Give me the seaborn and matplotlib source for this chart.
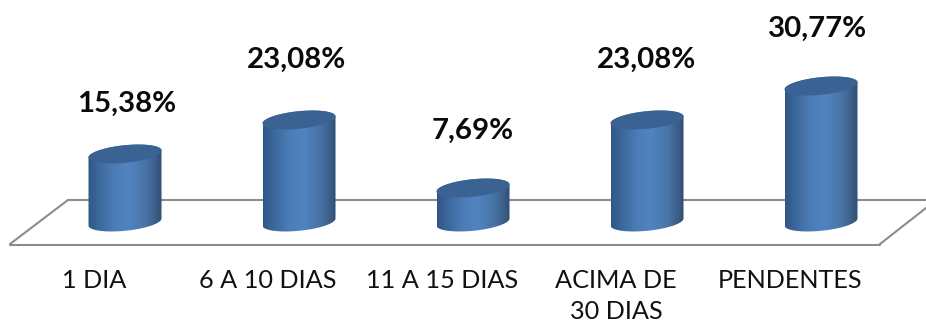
import numpy as np
import pandas as pd
import matplotlib
matplotlib.use("Agg")
import matplotlib.pyplot as plt
import seaborn as sns
from matplotlib.colors import LinearSegmentedColormap
from matplotlib.patches import Polygon
from matplotlib.transforms import ScaledTranslation

categories = ["1 DIA", "6 A 10 DIAS", "11 A 15 DIAS", "ACIMA DE\n30 DIAS", "PENDENTES"]
values = [15.38, 23.08, 7.69, 23.08, 30.77]
label_offsets_px = [(2, 50), (-2, 60), (0, 57), (0, 60), (-3, 57)]

W, H = 926, 326
AX_BOTTOM_PX = 262
X0, DX = 125.0, 174.0
Y0, DY = 222.0, 4.42

sns.set_theme(style="white")
plt.rcParams["font.family"] = ["Lato", "DejaVu Sans"]

fig = plt.figure(figsize=(W / 100, H / 100), dpi=100)
ax = fig.add_axes([0, 1 - AX_BOTTOM_PX / H, 1, AX_BOTTOM_PX / H])
df = pd.DataFrame({"cat": categories, "val": values})
sns.barplot(data=df, x="cat", y="val", width=73 / DX, color="#4f81bd", ax=ax, saturation=1)

xlim = (-X0 / DX, (W - X0) / DX)
ylim = ((Y0 - AX_BOTTOM_PX) / DY, Y0 / DY)
ax.set_xlim(xlim)
ax.set_ylim(ylim)
ax.set_xlabel("")
ax.set_ylabel("")
ax.set_yticks([])
ax.set_xticks(range(len(categories)))
ax.set_xticklabels(categories, fontsize=18.2, color="#111111", linespacing=1.42)
ax.tick_params(axis="x", length=0, pad=5)
shift = ScaledTranslation(-31 / 100, 0, fig.dpi_scale_trans)
for lab in ax.get_xticklabels():
    lab.set_transform(lab.get_transform() + shift)
for s in ax.spines.values():
    s.set_visible(False)
ax.patch.set_alpha(0)


def px(x, y):
    return ((np.asarray(x, float) - X0) / DX, (Y0 - np.asarray(y, float)) / DY)


# Floor of the 3-D chart
floor_col = "#8c8c8c"
for xs, ys in [((10, 68), (244, 200)), ((68, 926), (200, 200)),
               ((10, 880), (244.5, 244.5)), ((880, 926), (244, 208))]:
    ax.plot(*px(xs, ys), color=floor_col, lw=1.5, zorder=1, solid_capstyle="round")

cmap = LinearSegmentedColormap.from_list(
    "cyl",
    [(0, "#305685"), (0.12, "#3a6598"), (0.35, "#4b7cb6"), (0.55, "#5084c1"),
     (0.78, "#4874a6"), (0.93, "#3b5c85"), (1, "#2f4e75")],
)
grad = np.linspace(0, 1, 256).reshape(1, -1)
A_PX, B_PX, K_PX = 36.5, 8.8, -3.5

for bar, v, (ox, oy) in zip(ax.patches, values, label_offsets_px):
    bar.set_visible(False)
    cx = bar.get_x() + bar.get_width() / 2
    cpx = X0 + cx * DX
    top_px = Y0 - bar.get_height() * DY
    # lower half of the base ellipse and upper half of the top ellipse
    t1 = np.linspace(0, np.pi, 60)
    t2 = np.linspace(np.pi, 2 * np.pi, 60)
    xb = cpx + A_PX * np.cos(t1)
    yb = Y0 + B_PX * np.sin(t1) + K_PX * np.cos(t1)
    xt = cpx + A_PX * np.cos(t2)
    yt = top_px + B_PX * np.sin(t2) + K_PX * np.cos(t2)
    outline = np.column_stack(px(np.r_[xb, xt], np.r_[yb, yt]))
    clip = Polygon(outline, closed=True, transform=ax.transData, fc="none", ec="none")
    ax.add_patch(clip)
    im = ax.imshow(grad, cmap=cmap, aspect="auto", zorder=2, interpolation="bilinear",
                   extent=(cx - A_PX / DX, cx + A_PX / DX, ylim[0], ylim[1]))
    im.set_clip_path(clip)
    t = np.linspace(0, 2 * np.pi, 120)
    cap = np.column_stack(px(cpx + A_PX * np.cos(t),
                             top_px + B_PX * np.sin(t) + K_PX * np.cos(t)))
    ax.add_patch(Polygon(cap, closed=True, fc="#3a6394", ec="none", zorder=3))
    ax.annotate(f"{v:.2f}".replace(".", ",") + "%", xy=(cx, v),
                xytext=(ox * 0.72, oy * 0.72), textcoords="offset points",
                ha="center", va="center", fontsize=21.2, fontweight="bold",
                color="#0a0a0a", annotation_clip=False, zorder=5)

ax.set_xlim(xlim)
ax.set_ylim(ylim)
fig.savefig("out.png", dpi=100, facecolor="white")
